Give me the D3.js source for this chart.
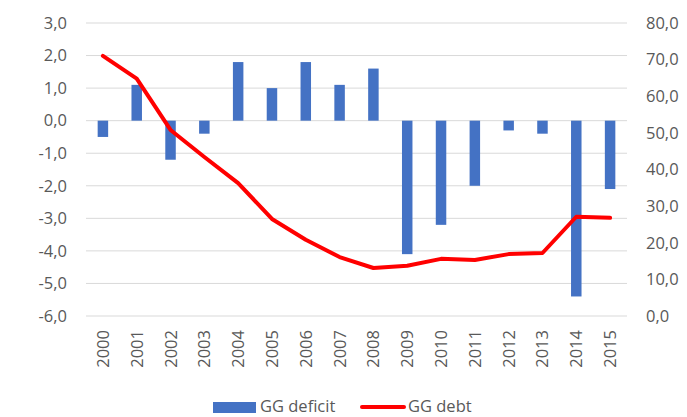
<!DOCTYPE html>
<html>
<head>
<meta charset="utf-8">
<script src="https://cdn.jsdelivr.net/npm/d3@7"></script>
<style>
  body { margin: 0; background: #fff; }
  text { font-family: "Open Sans", "Noto Sans", sans-serif; fill: #595959; }
</style>
</head>
<body>
<div id="chart"></div>
<script>
var years = ['2000','2001','2002','2003','2004','2005','2006','2007','2008','2009','2010','2011','2012','2013','2014','2015'];
var deficit = [-0.5, 1.1, -1.2, -0.4, 1.8, 1.0, 1.8, 1.1, 1.6, -4.1, -3.2, -2.0, -0.3, -0.4, -5.4, -2.1];
var debt = [71.0, 64.8, 50.8, 43.4, 36.3, 26.5, 20.8, 16.1, 13.1, 13.7, 15.6, 15.3, 16.9, 17.2, 27.1, 26.8];
var leftTicks = [3, 2, 1, 0, -1, -2, -3, -4, -5, -6];
var rightTicks = [80, 70, 60, 50, 40, 30, 20, 10, 0];

var width = 687, height = 417;
var plotLeft = 86, plotRight = 627, plotTop = 23, plotBottom = 316;
var fontSize = '16.5px';

var fmt = function(v){ return v.toFixed(1).replace('.', ','); };

var svg = d3.select('#chart').append('svg')
            .attr('width', width)
            .attr('height', height);

var x = d3.scaleBand().domain(years).range([plotLeft, plotRight]);
var yL = d3.scaleLinear().domain([-6, 3]).range([plotBottom, plotTop]);
var yR = d3.scaleLinear().domain([0, 80]).range([plotBottom, plotTop]);

// gridlines
svg.append('g').selectAll('line').data(leftTicks)
  .enter().append('line')
  .attr('x1', plotLeft).attr('x2', plotRight)
  .attr('y1', function(d){ return yL(d); })
  .attr('y2', function(d){ return yL(d); })
  .attr('stroke', '#d9d9d9')
  .attr('stroke-width', 1);

// left axis
var axL = svg.append('g')
  .attr('transform', 'translate(' + (plotLeft - 19) + ',0)')
  .call(d3.axisLeft(yL).tickValues(leftTicks).tickFormat(fmt).tickSize(0).tickPadding(0));
axL.select('.domain').remove();
axL.selectAll('text').style('font-size', fontSize).style('font-family', '"Open Sans", sans-serif').attr('fill', '#595959');

// right axis
var axR = svg.append('g')
  .attr('transform', 'translate(' + (plotRight + 19) + ',0)')
  .call(d3.axisRight(yR).tickValues(rightTicks).tickFormat(fmt).tickSize(0).tickPadding(0));
axR.select('.domain').remove();
axR.selectAll('text').style('font-size', fontSize).style('font-family', '"Open Sans", sans-serif').attr('fill', '#595959');

// bars
var barW = x.bandwidth() * 0.31;
svg.append('g').selectAll('rect').data(deficit)
  .enter().append('rect')
  .attr('x', function(d, i){ return x(years[i]) + x.bandwidth()/2 - barW/2; })
  .attr('y', function(d){ return d > 0 ? yL(d) : yL(0); })
  .attr('width', barW)
  .attr('height', function(d){ return Math.abs(yL(d) - yL(0)); })
  .attr('fill', '#4472c4');

// debt line
var line = d3.line()
  .x(function(d, i){ return x(years[i]) + x.bandwidth()/2; })
  .y(function(d){ return yR(d); });

svg.append('path')
  .datum(debt)
  .attr('d', line)
  .attr('fill', 'none')
  .attr('stroke', '#ff0000')
  .attr('stroke-width', 4)
  .attr('stroke-linejoin', 'round')
  .attr('stroke-linecap', 'round');

// x labels
svg.append('g').selectAll('text').data(years)
  .enter().append('text')
  .attr('transform', function(d){
    return 'translate(' + (x(d) + x.bandwidth()/2 + 6) + ',' + 330 + ') rotate(-90)';
  })
  .attr('text-anchor', 'end')
  .style('font-size', fontSize)
  .text(function(d){ return d; });

// legend
var lg = svg.append('g');
lg.append('rect').attr('x', 213).attr('y', 402).attr('width', 43).attr('height', 11).attr('fill', '#4472c4');
lg.append('text').attr('x', 260).attr('y', 412).style('font-size', fontSize).text('GG deficit');
lg.append('line').attr('x1', 362).attr('x2', 404).attr('y1', 407).attr('y2', 407)
  .attr('stroke', '#ff0000').attr('stroke-width', 4).attr('stroke-linecap', 'round');
lg.append('text').attr('x', 408).attr('y', 412).style('font-size', fontSize).text('GG debt');
</script>
</body>
</html>
